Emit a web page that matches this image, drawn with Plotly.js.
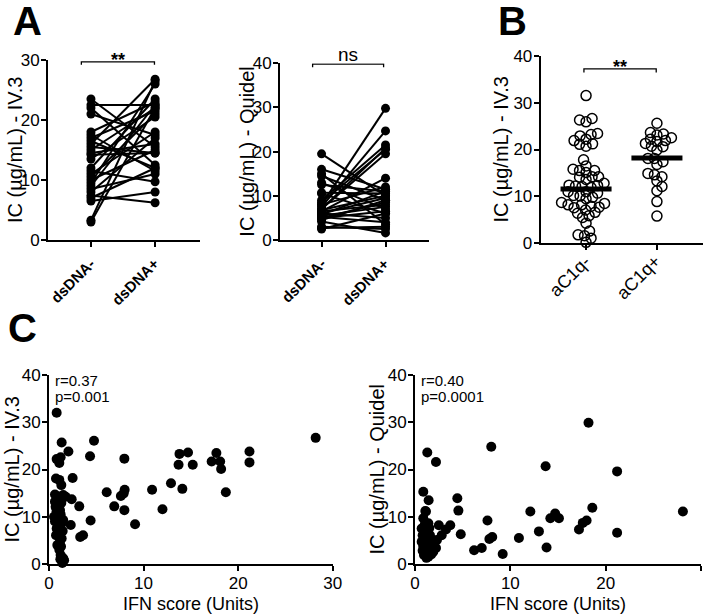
<!DOCTYPE html>
<html>
<head>
<meta charset="utf-8">
<script src="https://cdn.plot.ly/plotly-3.0.1.min.js"></script>
<style>
html,body{margin:0;padding:0;background:#fff;}
#chart{width:709px;height:616px;}
</style>
</head>
<body>
<div id="chart"></div>
<script>
// ---------------- DATA ----------------
const categoriesA = ['dsDNA-', 'dsDNA+'];
const categoriesB = ['aC1q-', 'aC1q+'];

// Panel A (left): paired IC IV.3 values, dsDNA- vs dsDNA+
const iv3_dsDNAneg = [23.5, 22.5, 22.0, 21.0, 18.0, 17.5, 17.0, 16.5, 16.0, 15.5, 15.0, 14.5, 14.2, 13.5, 12.0, 11.5, 11.0, 10.5, 10.0, 9.5, 9.0, 8.5, 8.0, 7.4, 7.0, 6.5, 3.3, 3.0];
const iv3_dsDNApos = [15.5, 22.5, 12.5, 17.5, 23.0, 11.5, 21.5, 12.0, 26.8, 14.5, 22.0, 16.0, 14.5, 20.5, 23.5, 9.7, 18.0, 21.0, 15.0, 26.0, 22.5, 11.0, 17.0, 6.2, 12.0, 8.0, 26.5, 22.0];

// Panel A (right): paired IC Quidel values
const quidel_dsDNAneg = [19.5, 16.0, 15.0, 14.5, 13.0, 12.5, 10.7, 10.5, 9.0, 8.5, 8.0, 8.0, 7.5, 7.0, 7.0, 6.5, 6.5, 6.0, 6.0, 5.8, 5.5, 5.2, 5.0, 5.0, 4.5, 4.2, 3.0, 2.7, 2.5, 6.8];
const quidel_dsDNApos = [10.0, 11.5, 3.5, 9.0, 7.0, 11.0, 10.5, 6.0, 21.5, 20.5, 29.8, 12.0, 24.7, 19.5, 20.8, 14.0, 8.0, 9.5, 5.0, 11.0, 7.5, 4.0, 6.5, 8.5, 9.0, 1.6, 2.5, 3.0, 6.0, 10.0];

// Panel B: IC IV.3 by aC1q status
const aC1qNeg = [31.5, 26.3, 25.9, 26.6, 22.9, 23.2, 23.4, 22.2, 21.9, 21.1, 20.7, 21.2, 17.8, 16.5, 15.5, 15.1, 15.5, 15.8, 14.2, 14.1, 14.2, 12.8, 12.3, 12.1, 11.9, 12.2, 12.4, 9.5, 10.1, 10.2, 8.5, 8.2, 8.2, 8.7, 7.7, 7.1, 6.4, 5.5, 5.9, 6.6, 7.6, 4.3, 1.6, 0.2, 1.1, 2.6, 1.8, 10.7, 11.0, 11.0, 13.6, 9.8, 7.9];
const aC1qPos = [25.6, 22.2, 23.3, 23.1, 21.9, 21.7, 22.5, 20.7, 20.6, 21.3, 19.9, 18.1, 16.8, 17.4, 18.1, 14.6, 13.3, 14.2, 14.9, 12.1, 11.2, 8.9, 5.8, 23.6];
const aC1qMedians = [11.6, 18.2];

// Panel C (left): IFN score vs IC IV.3
const ifnScore_iv3 = [0.81, 1.34, 4.76, 28.2, 2.05, 4.34, 7.97, 1.23, 0.81, 1.09, 13.8, 14.7, 17.7, 21.2, 21.2, 13.7, 15.2, 17.2, 18.1, 18.2, 0.74, 1.09, 2.5, 1.3, 6.1, 10.9, 8.0, 12.9, 14.1, 18.7, 7.6, 7.9, 2.4, 1.76, 0.63, 3.2, 6.9, 7.97, 12.0, 9.1, 4.4, 2.3, 3.3, 3.6,
  0.63, 1.0, 0.8, 1.16, 0.53, 1.0, 0.63, 1.34, 0.81, 1.16, 0.74, 1.34, 0.88, 1.09, 1.23, 1.5, 1.41, 1.0, 1.5, 0.7, 1.23, 1.06, 1.5, 0.92, 1.16, 1.27, 1.3, 0.85, 1.45, 1.2, 1.6, 0.95];
const ic_iv3 = [32.0, 25.7, 26.1, 26.7, 23.8, 22.8, 22.3, 22.6, 22.2, 21.4, 23.3, 23.6, 23.5, 23.8, 21.5, 21.0, 21.0, 21.7, 21.7, 20.1, 18.1, 17.8, 18.2, 16.7, 15.2, 15.7, 15.7, 17.1, 15.9, 15.2, 14.4, 14.95, 13.7, 14.25, 14.7, 12.2, 12.2, 11.4, 11.6, 8.4, 9.2, 8.25, 5.7, 6.1,
  13.2, 12.5, 11.1, 11.4, 10.0, 9.7, 9.0, 8.6, 7.5, 6.8, 6.1, 5.4, 4.0, 3.0, 1.9, 1.2, 0.2, 14.3, 14.6, 12.1, 10.5, 8.25, 9.3, 6.5, 4.7, 3.7, 12.9, 10.3, 7.0, 1.0, 0.8, 8.9];

// Panel C (right): IFN score vs IC Quidel
const ifnScore_quidel = [18.2, 8.0, 1.29, 2.2, 13.7, 21.2, 0.87, 1.43, 4.44, 4.55, 1.08, 12.1, 28.1, 18.6, 14.7, 14.2, 15.1, 7.6, 18.0, 17.6, 17.2, 2.5, 3.7, 3.25, 4.8, 21.2, 13.0, 7.8, 8.1, 10.9, 6.2, 7.0, 9.2, 13.8, 2.8, 2.3,
  0.87, 1.05, 1.4, 0.7, 1.22, 0.8, 1.57, 1.05, 0.7, 1.4, 0.87, 1.75, 1.22, 0.94, 1.4, 1.92, 1.15, 1.0, 1.3, 0.9, 1.6, 1.1, 1.3, 2.0, 1.7, 0.8, 1.2, 2.2, 1.0, 1.5];
const ic_quidel = [29.9, 24.8, 23.6, 21.6, 20.7, 19.6, 15.3, 13.5, 13.9, 11.3, 11.2, 11.1, 11.1, 11.9, 10.7, 9.7, 9.7, 9.2, 9.2, 8.7, 7.3, 8.2, 8.2, 7.3, 6.3, 6.6, 6.9, 5.3, 5.7, 5.5, 2.9, 3.4, 2.1, 3.5, 6.1, 5.1,
  9.7, 8.6, 8.6, 7.5, 7.2, 6.1, 6.1, 5.4, 4.7, 4.4, 3.7, 3.7, 3.0, 1.9, 1.55, 2.6, 11.1, 7.9, 6.6, 5.0, 5.0, 4.1, 2.3, 4.4, 2.0, 2.8, 1.3, 3.4, 6.9, 7.6];

const statsC = [['r=0.37', 'p=0.001'], ['r=0.40', 'p=0.0001']];
const sigLabels = ['**', 'ns', '**'];
const bracketY = [29.7, 39.8, 37.2];

// ---------------- HELPERS ----------------
const W = 709, H = 616;
const FONT = 'Arial, "Liberation Sans", Helvetica, sans-serif';
const px2x = p => p / W;
const px2y = p => 1 - p / H;

const dom = {
  x1: [px2x(48), px2x(200)],  y1: [px2y(240), px2y(60)],
  x2: [px2x(280), px2x(429)], y2: [px2y(240), px2y(63.3)],
  x3: [px2x(540.7), px2x(703)], y3: [px2y(243.3), px2y(55.7)],
  x4: [px2x(49), px2x(332.7)], y4: [px2y(564), px2y(375)],
  x5: [px2x(415), px2x(701)], y5: [px2y(564), px2y(375)]
};
const rng = {
  x1: [-0.67, 1.70], y1: [0, 30],
  x2: [-0.65, 1.68], y2: [0, 40],
  x3: [-0.64, 1.65], y3: [0, 40],
  x4: [0, 30], y4: [0, 40],
  x5: [0, 30], y5: [0, 40]
};
// category value -> paper coordinate on a given x axis
const catPaper = (axKey, v) => dom[axKey][0] + (v - rng[axKey][0]) / (rng[axKey][1] - rng[axKey][0]) * (dom[axKey][1] - dom[axKey][0]);

function pairedTrace(neg, pos, xa, ya) {
  const x = [], y = [];
  for (let i = 0; i < neg.length; i++) { x.push(0, 1, null); y.push(neg[i], pos[i], null); }
  return {type: 'scatter', mode: 'lines+markers', x: x, y: y, xaxis: xa, yaxis: ya,
    line: {color: '#000', width: 2}, marker: {color: '#000', size: 9},
    cliponaxis: false, connectgaps: false, showlegend: false, hoverinfo: 'y'};
}

function beeswarm(vals, center, pxPerX, pxPerY, diam) {
  const order = vals.map((v, i) => i).sort((a, b) => vals[a] - vals[b]);
  const placed = [];
  const xs = new Array(vals.length);
  order.forEach((i, n) => {
    const py = vals[i] * pxPerY;
    let off = 0;
    for (let k = 0; k < 400; k++) {
      const c = k * 0.5;
      const cands = k === 0 ? [0] : (n % 2 ? [c, -c] : [-c, c]);
      let found = null;
      for (const cx of cands) {
        if (placed.every(p => (p.x - cx) * (p.x - cx) + (p.y - py) * (p.y - py) >= diam * diam)) { found = cx; break; }
      }
      if (found !== null) { off = found; break; }
    }
    placed.push({x: off, y: py});
    xs[i] = center + off / pxPerX;
  });
  return xs;
}

const bPxX = (dom.x3[1] - dom.x3[0]) * W / (rng.x3[1] - rng.x3[0]);
const bPxY = (dom.y3[1] - dom.y3[0]) * H / (rng.y3[1] - rng.y3[0]);

// ---------------- TRACES ----------------
const traces = [
  pairedTrace(iv3_dsDNAneg, iv3_dsDNApos, 'x', 'y'),
  pairedTrace(quidel_dsDNAneg, quidel_dsDNApos, 'x2', 'y2')
];
[aC1qNeg, aC1qPos].forEach((vals, gi) => {
  traces.push({type: 'scatter', mode: 'markers', x: beeswarm(vals, gi, bPxX, bPxY, 6.5), y: vals,
    xaxis: 'x3', yaxis: 'y3', cliponaxis: false, showlegend: false, hoverinfo: 'y',
    marker: {symbol: 'circle-open', color: '#000', size: 10, line: {width: 1.5, color: '#000'}}});
  traces.push({type: 'scatter', mode: 'lines', x: [gi - 0.36, gi + 0.36], y: [aC1qMedians[gi], aC1qMedians[gi]],
    xaxis: 'x3', yaxis: 'y3', line: {color: '#000', width: 5}, showlegend: false, hoverinfo: 'skip'});
});
traces.push({type: 'scatter', mode: 'markers', x: ifnScore_iv3, y: ic_iv3, xaxis: 'x4', yaxis: 'y4',
  cliponaxis: false, showlegend: false, marker: {color: '#000', size: 10}});
traces.push({type: 'scatter', mode: 'markers', x: ifnScore_quidel, y: ic_quidel, xaxis: 'x5', yaxis: 'y5',
  cliponaxis: false, showlegend: false, marker: {color: '#000', size: 10}});

// ---------------- LAYOUT ----------------
const baseAxis = {showline: true, linecolor: '#000', linewidth: 2, ticks: 'outside', ticklen: 5, tickwidth: 2,
  tickcolor: '#000', showgrid: false, zeroline: false, fixedrange: true, ticklabelstandoff: -2,
  tickfont: {size: 17, color: '#000'}};
function ax(extra) { return Object.assign({}, baseAxis, extra); }

const layout = {
  width: W, height: H, margin: {l: 0, r: 0, t: 0, b: 0},
  paper_bgcolor: '#fff', plot_bgcolor: 'rgba(0,0,0,0)', showlegend: false,
  font: {family: FONT, size: 17, color: '#000'},
  xaxis: ax({domain: dom.x1, range: rng.x1, anchor: 'y', tickvals: [0, 1], showticklabels: false}),
  yaxis: ax({domain: dom.y1, range: rng.y1, anchor: 'x', tickvals: [0, 10, 20, 30]}),
  xaxis2: ax({domain: dom.x2, range: rng.x2, anchor: 'y2', tickvals: [0, 1], showticklabels: false}),
  yaxis2: ax({domain: dom.y2, range: rng.y2, anchor: 'x2', tickvals: [0, 10, 20, 30, 40]}),
  xaxis3: ax({domain: dom.x3, range: rng.x3, anchor: 'y3', tickvals: [0, 1], showticklabels: false}),
  yaxis3: ax({domain: dom.y3, range: rng.y3, anchor: 'x3', tickvals: [0, 10, 20, 30, 40]}),
  xaxis4: ax({domain: dom.x4, range: rng.x4, anchor: 'y4', tickvals: [0, 10, 20, 30]}),
  yaxis4: ax({domain: dom.y4, range: rng.y4, anchor: 'x4', tickvals: [0, 10, 20, 30, 40]}),
  xaxis5: ax({domain: dom.x5, range: rng.x5, anchor: 'y5', tickvals: [0, 10, 20, 30]}),
  yaxis5: ax({domain: dom.y5, range: rng.y5, anchor: 'x5', tickvals: [0, 10, 20, 30, 40]}),
  shapes: [],
  annotations: []
};

// rotated category labels, placed in paper coordinates at the category ticks
[['x1', 'y1', categoriesA, true], ['x2', 'y2', categoriesA, true], ['x3', 'y3', categoriesB, false]].forEach(a => {
  a[2].forEach((c, i) => {
    layout.annotations.push({xref: 'paper', yref: 'paper', x: catPaper(a[0], i), y: dom[a[1]][0],
      xanchor: 'right', yanchor: 'top', textangle: -45,
      xshift: a[3] ? 10 : 11, yshift: a[3] ? -12 : -5, showarrow: false,
      text: a[3] ? '<b>' + c + '</b>' : c, font: {size: a[3] ? 15 : 18, color: '#000'}});
  });
});

// significance brackets
const brackets = [
  {xa: 'x', ya: 'y', x0: -0.15, x1: 0.99, drop: 0.5},
  {xa: 'x2', ya: 'y2', x0: -0.14, x1: 0.97, drop: 0.7},
  {xa: 'x3', ya: 'y3', x0: -0.03, x1: 0.99, drop: 0.8}
];
brackets.forEach((b, i) => {
  const yT = bracketY[i], yB = bracketY[i] - b.drop;
  layout.shapes.push({type: 'path', xref: b.xa, yref: b.ya,
    path: `M ${b.x0},${yB} L ${b.x0},${yT} L ${b.x1},${yT} L ${b.x1},${yB}`,
    line: {color: '#000', width: 1.3}});
  const isNs = sigLabels[i] === 'ns';
  layout.annotations.push({xref: b.xa, yref: b.ya, x: (b.x0 + b.x1) / 2, y: yT, yanchor: 'bottom', xanchor: 'center',
    text: isNs ? sigLabels[i] : '<b>' + sigLabels[i] + '</b>', showarrow: false, yshift: isNs ? -3 : -10,
    font: {size: isNs ? 19 : 18, color: '#000'}});
});

// y-axis titles
const yTitles = [
  {x: 15, axis: 'y1', text: 'IC (µg/mL) - IV.3'},
  {x: 247, axis: 'y2', text: 'IC (µg/mL) - Quidel'},
  {x: 500, axis: 'y3', text: 'IC (µg/mL) - IV.3'},
  {x: 11, axis: 'y4', text: 'IC (µg/mL) - IV.3'},
  {x: 376, axis: 'y5', text: 'IC (µg/mL) - Quidel'}
];
yTitles.forEach(t => {
  const d = dom[t.axis];
  layout.annotations.push({xref: 'paper', yref: 'paper', x: px2x(t.x), y: (d[0] + d[1]) / 2,
    xanchor: 'center', yanchor: 'middle', textangle: -90, text: t.text, showarrow: false,
    font: {size: 20, color: '#000'}});
});
// x-axis titles (panel C)
[['x4', 'IFN score (Units)'], ['x5', 'IFN score (Units)']].forEach(t => {
  const d = dom[t[0]];
  layout.annotations.push({xref: 'paper', yref: 'paper', x: (d[0] + d[1]) / 2, y: px2y(604), xanchor: 'center', yanchor: 'middle',
    text: t[1], showarrow: false, font: {size: 18, color: '#000'}});
});
// correlation stats
[['x4', 'y4'], ['x5', 'y5']].forEach((a, i) => {
  layout.annotations.push({xref: a[0], yref: a[1], x: 0.45, y: 40, xanchor: 'left', yanchor: 'top', yshift: 5,
    text: statsC[i][0], showarrow: false, font: {size: 15, color: '#000'}});
  layout.annotations.push({xref: a[0], yref: a[1], x: 0.45, y: 40, xanchor: 'left', yanchor: 'top', yshift: -11,
    text: statsC[i][1], showarrow: false, font: {size: 15, color: '#000'}});
});
// panel letters
[['A', 11, 0], ['B', 496, 0], ['C', 6, 307]].forEach(p => {
  layout.annotations.push({xref: 'paper', yref: 'paper', x: px2x(p[1]), y: px2y(p[2]), xanchor: 'left', yanchor: 'top',
    yshift: 3, text: '<b>' + p[0] + '</b>', showarrow: false, font: {size: 40, color: '#000'}});
});

Plotly.newPlot('chart', traces, layout, {displayModeBar: false, staticPlot: true});
</script>
</body>
</html>
